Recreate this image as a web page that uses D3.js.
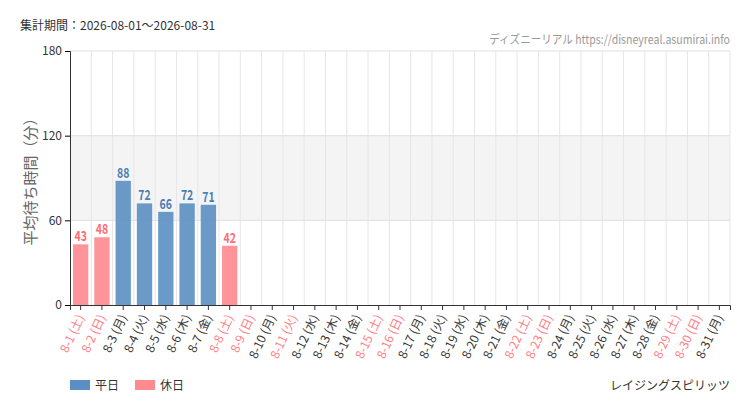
<!DOCTYPE html>
<html><head><meta charset="utf-8">
<script src="https://cdn.jsdelivr.net/npm/d3@7"></script>
<style>body{margin:0;background:#fff}text{font-family:"Noto Sans CJK JP","Noto Sans",sans-serif}</style>
</head><body><svg id="c" width="750" height="410"></svg>
<script>
const days = d3.range(1, 32).map(d => '8-' + d);
const weekdays = ['土','日','月','火','水','木','金'];
const holidays = ['8-11'];
const values = [43, 48, 88, 72, 66, 72, 71, 42];
const yTicks = [0, 60, 120, 180];

const svg = d3.select('#c');
const m = {l: 70, r: 730, t: 51, b: 305};
const x = d3.scaleBand().domain(days).range([m.l, m.r]).paddingInner(0.28).paddingOuter(0.14);
const y = d3.scaleLinear().domain([0, 180]).range([m.b, m.t]);
const wd = i => weekdays[i % 7];
const isOff = i => i % 7 < 2 || holidays.includes(days[i]);
const BLUE = '#5b8ec2', RED = '#ff8a8f';

svg.append('rect').attr('x', m.l).attr('width', m.r - m.l).attr('y', y(120)).attr('height', y(60) - y(120)).attr('fill', '#f4f4f4');
const step = x.step();
svg.selectAll('.vg').data(days).enter().append('line')
  .attr('x1', d => x(d) + x.bandwidth() / 2 + step / 2).attr('x2', d => x(d) + x.bandwidth() / 2 + step / 2)
  .attr('y1', m.t).attr('y2', m.b).attr('stroke', '#e6e6e6');
svg.selectAll('.hg').data(yTicks.slice(1)).enter().append('line')
  .attr('x1', m.l).attr('x2', m.r).attr('y1', d => y(d)).attr('y2', d => y(d)).attr('stroke', '#e0e0e0');

svg.selectAll('.bar').data(values).enter().append('rect')
  .attr('x', (d, i) => x(days[i])).attr('width', x.bandwidth())
  .attr('y', d => y(d)).attr('height', d => y(0) - y(d))
  .attr('fill', (d, i) => isOff(i) ? RED : BLUE).attr('opacity', 0.9);
svg.selectAll('.vl').data(values).enter().append('text')
  .attr('x', (d, i) => x(days[i]) + x.bandwidth() / 2).attr('y', d => y(d) - 3)
  .attr('text-anchor', 'middle').attr('font-size', 14).attr('font-weight', 'bold').attr('font-family', 'Roboto, sans-serif')
  .attr('transform', (d, i) => `translate(${x(days[i]) + x.bandwidth() / 2},0) scale(0.75,1) translate(${-(x(days[i]) + x.bandwidth() / 2)},0)`)
  .attr('fill', (d, i) => isOff(i) ? '#ff6b73' : '#4a7fb5').text(d => d);

const ya = svg.append('g').attr('transform', `translate(${m.l},0)`)
  .call(d3.axisLeft(y).tickValues(yTicks).tickSize(5));
ya.select('.domain').attr('stroke', '#333');
ya.selectAll('text').attr('font-size', 12).attr('fill', '#333');
const xa = svg.append('g').attr('transform', `translate(0,${m.b})`)
  .call(d3.axisBottom(x).tickSize(5).tickFormat(''));
xa.select('.domain').attr('stroke', '#333');
xa.selectAll('.tick line').attr('stroke', '#333');
days.forEach((d, i) => {
  const cx = x(d) + x.bandwidth() / 2;
  svg.append('text').attr('transform', `translate(${cx + 4},${m.b + 12}) rotate(-65)`)
    .attr('text-anchor', 'end').attr('font-size', 12)
    .attr('fill', isOff(i) ? '#ff7c83' : '#333').text(`${d} (${wd(i)})`);
});

svg.append('text').attr('transform', `translate(36,${(m.t + m.b) / 2}) rotate(-90)`)
  .attr('text-anchor', 'middle').attr('font-size', 15).attr('fill', '#666').text('平均待ち時間（分）');
svg.append('text').attr('x', 20).attr('y', 30).attr('font-size', 12).attr('fill', '#333').text('集計期間：2026-08-01～2026-08-31');
svg.append('text').attr('x', 730).attr('y', 44).attr('text-anchor', 'end').attr('font-size', 12).attr('fill', '#999')
  .attr('transform', 'translate(730,0) scale(0.88,1) translate(-730,0)').text('ディズニーリアル https://disneyreal.asumirai.info');
svg.append('rect').attr('x', 70).attr('y', 380).attr('width', 20).attr('height', 10).attr('fill', BLUE);
svg.append('text').attr('x', 95).attr('y', 390).attr('font-size', 12).attr('fill', '#333').text('平日');
svg.append('rect').attr('x', 135).attr('y', 380).attr('width', 20).attr('height', 10).attr('fill', RED);
svg.append('text').attr('x', 160).attr('y', 390).attr('font-size', 12).attr('fill', '#333').text('休日');
svg.append('text').attr('x', 730).attr('y', 390).attr('text-anchor', 'end').attr('font-size', 12).attr('fill', '#333').text('レイジングスピリッツ');
</script></body></html>
